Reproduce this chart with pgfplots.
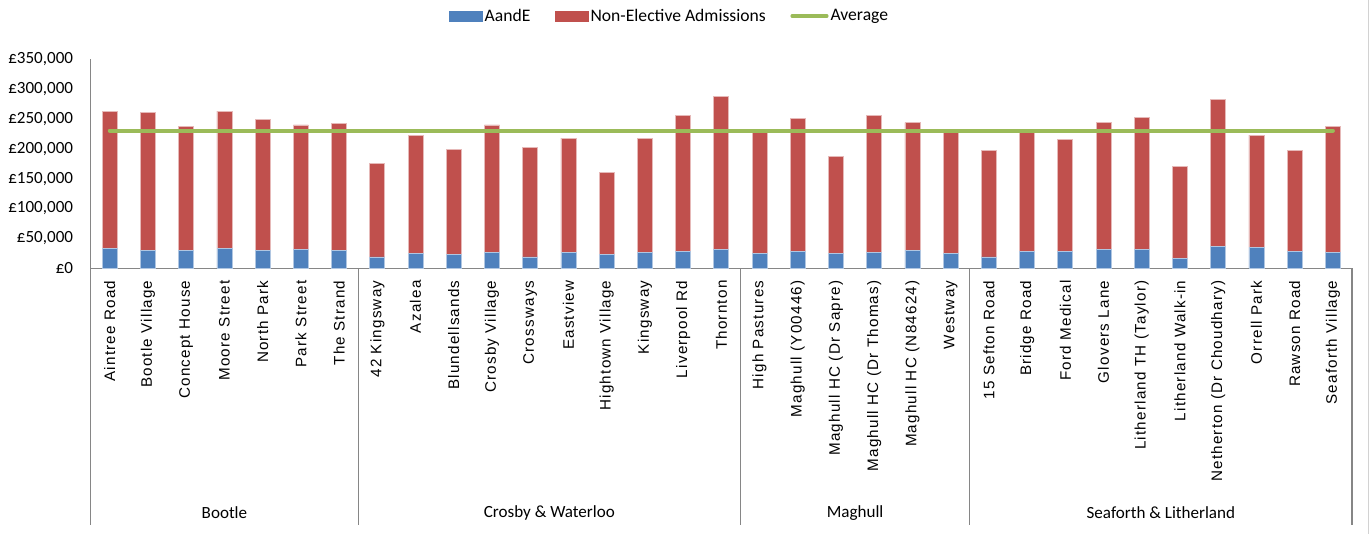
\documentclass[border=0pt]{standalone}
\usepackage{pgfplots}
\pgfplotsset{compat=1.18}
\usepackage{pgfplotstable}
\usepackage{fontspec}
\setmainfont{Carlito}
\newfontfamily\catfont[LetterSpace=8]{Liberation Sans}

\definecolor{aecol}{HTML}{4F81BD}
\definecolor{necol}{HTML}{C0504D}
\definecolor{avcol}{HTML}{9BBB59}
\definecolor{axgray}{HTML}{868686}

% Cost per practice (GBP): A&E attendances and non-elective admissions
\pgfplotstableread{
x  aande  nonel
0  33000  230000
1  30000  231000
2  30000  207000
3  33500  229500
4  30000  219000
5  31500  208500
6  30000  212000
7  19000  156000
8  24500  198500
9  23000  176000
10 26000  214000
11 19000  184000
12 26000  192000
13 23000  138000
14 26000  192000
15 28000  228000
16 31000  256000
17 24500  205500
18 28000  223000
19 24500  162500
20 26000  230000
21 30000  214000
22 24500  204000
23 19000  179000
24 28000  201500
25 28000  188000
26 31000  213000
27 31000  221000
28 17000  154000
29 37000  245000
30 34500  188500
31 28000  170000
32 26000  211000
}\costs

\tikzset{lblfont/.style={font=\fontsize{12.8}{14}\selectfont},
  sep/.style={axgray, line width=0.8pt}}
\pgfplotsset{
  base/.style={
    scale only axis, width=946pt, height=156.75pt,
    xmin=-0.5, xmax=32.5, ymin=0, ymax=350000,
    at={(0,0)}, anchor=south west,
  },
}

\begin{document}
\begin{tikzpicture}
\begin{axis}[
  base,
  ybar stacked,
  bar width=11.25pt,
  clip=false,
  axis x line*=bottom,
  axis y line*=left,
  axis line style={axgray, line width=0.8pt},
  major tick length=0pt,
  xtick={0,...,32},
  xticklabels={Aintree Road, Bootle Village, Concept House, Moore Street, North Park, Park Street, The Strand,
    42 Kingsway, Azalea, Blundellsands, Crosby Village, Crossways, Eastview, Hightown Village, Kingsway, Liverpool Rd, Thornton,
    High Pastures, Maghull (Y00446), Maghull HC (Dr Sapre), Maghull HC (Dr Thomas), Maghull HC (N84624), Westway,
    15 Sefton Road, Bridge Road, Ford Medical, Glovers Lane, Litherland TH (Taylor), Litherland Walk-in, Netherton (Dr Choudhary), Orrell Park, Rawson Road, Seaforth Village},
  xticklabel style={rotate=90, anchor=east, inner sep=0pt, font=\catfont\fontsize{11.4}{12}\selectfont},
  xticklabel shift=9pt,
  ytick={0,50000,...,350000},
  yticklabels={£0,{£50,000},{£100,000},{£150,000},{£200,000},{£250,000},{£300,000},{£350,000}},
  yticklabel style={inner sep=0pt, lblfont},
  yticklabel shift=13pt,
  scaled y ticks=false,
]
\addplot[fill=aecol, draw=aecol!45!white, line width=0.6pt] table[x=x, y=aande] {\costs};
\addplot[fill=necol, draw=necol!40!white, line width=0.6pt] table[x=x, y=nonel] {\costs};

% locality separators and group captions
\draw[sep] (axis cs:-0.5,0) -- ++(0pt,-192.5pt);
\draw[sep] (axis cs:6.5,0) -- ++(0pt,-192.5pt);
\draw[sep] (axis cs:16.5,0) -- ++(0pt,-192.5pt);
\draw[sep] (axis cs:22.5,0) -- ++(0pt,-192.5pt);
\draw[sep] (axis cs:32.5,0) -- ++(0pt,-192.5pt);
\node[lblfont, yshift=-183.5pt] at (axis cs:3,0) {Bootle};
\node[lblfont, yshift=-183.5pt] at (axis cs:11.5,0) {Crosby \& Waterloo};
\node[lblfont, yshift=-183.5pt] at (axis cs:19.5,0) {Maghull};
\node[lblfont, yshift=-183.5pt] at (axis cs:27.5,0) {Seaforth \& Litherland};
\end{axis}

\begin{axis}[
  base,
  hide axis,
  legend columns=3,
  legend style={draw=none, fill=none, font=\fontsize{13.2}{15}\selectfont, at={(0.459,1.207)}, anchor=center,
    nodes={inner xsep=1.5pt},
    /tikz/every even column/.append style={column sep=17pt}},
]
\addlegendimage{legend image code/.code={\fill[aecol] (0pt,-3.75pt) rectangle (24.75pt,3.75pt);}}
\addlegendentry{AandE}
\addlegendimage{legend image code/.code={\fill[necol] (0pt,-3.75pt) rectangle (24.75pt,3.75pt);}}
\addlegendentry{Non-Elective Admissions}
\addplot[avcol, line width=3pt, line cap=round,
  legend image code/.code={\draw[avcol, line width=2.6pt] (0pt,0pt) -- (26pt,0pt);}]
  coordinates {(0,230500) (32,230500)};
\addlegendentry{Average}
\end{axis}

\draw[gray!35, line width=0.8pt] (958.7pt,-199.3pt) -- (958.7pt,201.2pt);
\pgfresetboundingbox
\path[use as bounding box] (-68pt,-199.3pt) rectangle (961pt,201.2pt);
\end{tikzpicture}
\end{document}
